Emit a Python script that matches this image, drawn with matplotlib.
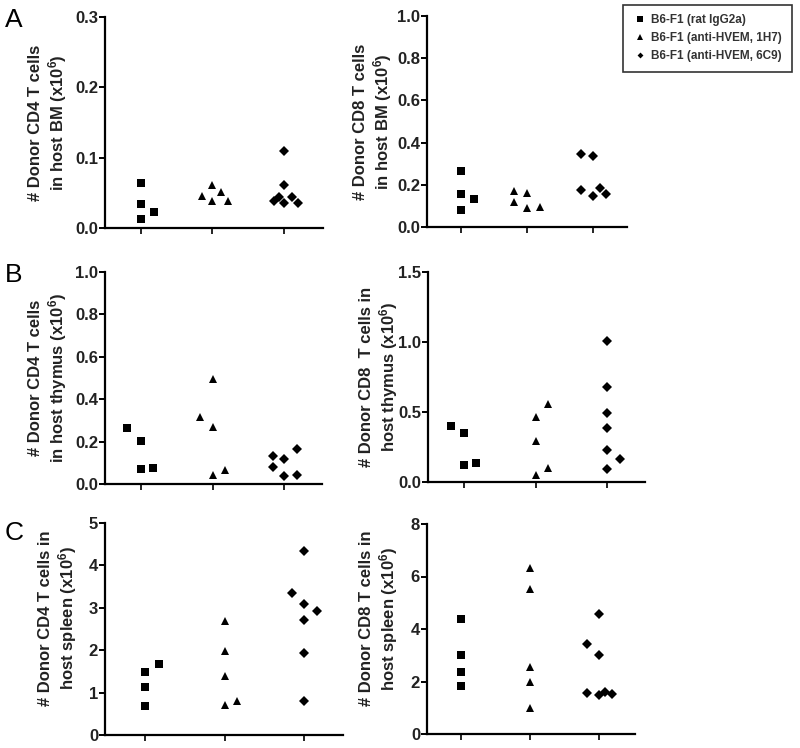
import matplotlib
matplotlib.use("Agg")
import matplotlib.pyplot as plt
from matplotlib.lines import Line2D
from matplotlib.ticker import FormatStrFormatter

plt.rcParams['font.family'] = ['Liberation Sans', 'DejaVu Sans']
plt.rcParams['mathtext.fontset'] = 'custom'
plt.rcParams['mathtext.rm'] = 'Liberation Sans:bold'
plt.rcParams['mathtext.it'] = 'Liberation Sans:bold'
plt.rcParams['mathtext.default'] = 'rm'

groups = ["B6-F1 (rat IgG2a)", "B6-F1 (anti-HVEM, 1H7)", "B6-F1 (anti-HVEM, 6C9)"]
group_pos = [1, 2, 3]

# Panel A left: CD4 in BM
a4_sq = [0.064, 0.034, 0.013, 0.023]
a4_sq_dx = [0, 0, 0, 0.18]
a4_tr = [0.046, 0.061, 0.038, 0.051, 0.039]
a4_tr_dx = [-0.15, 0, 0, 0.12, 0.22]
a4_di = [0.109, 0.061, 0.038, 0.044, 0.035, 0.044, 0.035]
a4_di_dx = [0, 0, -0.13, -0.07, 0, 0.12, 0.2]

# Panel A right: CD8 in BM
a8_sq = [0.264, 0.158, 0.134, 0.079]
a8_sq_dx = [0, 0, 0.2, 0]
a8_tr = [0.169, 0.118, 0.163, 0.092, 0.095]
a8_tr_dx = [-0.2, -0.2, 0, 0, 0.19]
a8_di = [0.348, 0.335, 0.177, 0.147, 0.186, 0.155]
a8_di_dx = [-0.18, 0, -0.18, 0, 0.11, 0.2]

# Panel B left: CD4 in thymus
b4_sq = [0.263, 0.205, 0.071, 0.074]
b4_sq_dx = [-0.2, 0, 0, 0.17]
b4_tr = [0.315, 0.496, 0.271, 0.043, 0.066]
b4_tr_dx = [-0.17, 0, 0, 0, 0.18]
b4_di = [0.134, 0.082, 0.118, 0.039, 0.164, 0.043]
b4_di_dx = [-0.15, -0.15, 0, 0, 0.18, 0.18]

# Panel B right: CD8 in thymus
b8_sq = [0.399, 0.353, 0.124, 0.139]
b8_sq_dx = [-0.18, 0, 0, 0.17]
b8_tr = [0.466, 0.554, 0.291, 0.048, 0.100]
b8_tr_dx = [0, 0.17, 0, 0, 0.17]
b8_di = [1.010, 0.681, 0.494, 0.387, 0.227, 0.167, 0.091]
b8_di_dx = [0, 0, 0, 0, 0, 0.18, 0]

# Panel C left: CD4 in spleen
c4_sq = [1.48, 1.13, 0.68, 1.68]
c4_sq_dx = [0, 0, 0, 0.17]
c4_tr = [2.70, 1.98, 1.38, 0.71, 0.80]
c4_tr_dx = [0, 0, 0, 0, 0.16]
c4_di = [4.33, 3.36, 3.08, 2.92, 2.72, 1.93, 0.81]
c4_di_dx = [0, -0.15, 0, 0.16, 0, 0, 0]

# Panel C right: CD8 in spleen
c8_sq = [4.38, 3.00, 2.37, 1.82]
c8_sq_dx = [0, 0, 0, 0]
c8_tr = [6.32, 5.54, 2.55, 1.97, 1.00]
c8_tr_dx = [0, 0, 0, 0, 0]
c8_di = [3.41, 4.57, 3.02, 1.55, 1.50, 1.59, 1.53]
c8_di_dx = [-0.17, 0, 0, -0.17, 0, 0.09, 0.18]

panels = [
    dict(rect=(105, 17, 323, 228), ylim=0.3, yticks=[0, 0.1, 0.2, 0.3], fmt='%.1f',
         label="# Donor CD4 T cells\nin host BM (x10$^6$)", lx=-0.165, ly=0.5,
         data=[(a4_sq, a4_sq_dx), (a4_tr, a4_tr_dx), (a4_di, a4_di_dx)], xlim=(0.497, 3.55)),
    dict(rect=(427, 16, 627, 227), ylim=1.0, yticks=[0, 0.2, 0.4, 0.6, 0.8, 1.0], fmt='%.1f',
         label="# Donor CD8 T cells\nin host BM (x10$^6$)", lx=-0.165, ly=0.5,
         data=[(a8_sq, a8_sq_dx), (a8_tr, a8_tr_dx), (a8_di, a8_di_dx)], xlim=(0.485, 3.515)),
    dict(rect=(105, 272, 322, 484), ylim=1.0, yticks=[0, 0.2, 0.4, 0.6, 0.8, 1.0], fmt='%.1f',
         label="# Donor CD4 T cells\nin host thymus (x10$^6$)", lx=-0.166, ly=0.5,
         data=[(b4_sq, b4_sq_dx), (b4_tr, b4_tr_dx), (b4_di, b4_di_dx)], xlim=(0.497, 3.53)),
    dict(rect=(428, 272, 645, 482), ylim=1.5, yticks=[0, 0.5, 1.0, 1.5], fmt='%.1f',
         label="# Donor CD8  T cells in\nhost thymus (x10$^6$)", lx=-0.129, ly=0.5,
         data=[(b8_sq, b8_sq_dx), (b8_tr, b8_tr_dx), (b8_di, b8_di_dx)], xlim=(0.497, 3.53)),
    dict(rect=(105, 523, 343, 735), ylim=5, yticks=[0, 1, 2, 3, 4, 5], fmt='%d',
         label="# Donor CD4 T cells in\nhost spleen (x10$^6$)", lx=-0.109, ly=0.55,
         data=[(c4_sq, c4_sq_dx), (c4_tr, c4_tr_dx), (c4_di, c4_di_dx)], xlim=(0.497, 3.49)),
    dict(rect=(427, 524, 635, 734), ylim=8, yticks=[0, 2, 4, 6, 8], fmt='%d',
         label="# Donor CD8 T cells in\nhost spleen (x10$^6$)", lx=-0.130, ly=0.55,
         data=[(c8_sq, c8_sq_dx), (c8_tr, c8_tr_dx), (c8_di, c8_di_dx)], xlim=(0.507, 3.52)),
]

markers = [('s', 5.8), ('^', 6.0), ('D', 4.6)]

W, H = 800, 748
fig = plt.figure(figsize=(W / 100, H / 100), dpi=100)

for p in panels:
    x0, y0, x1, y1 = p['rect']
    ax = fig.add_axes([x0 / W, 1 - y1 / H, (x1 - x0) / W, (y1 - y0) / H])
    for gi, (vals, dx) in enumerate(p['data']):
        m, ms = markers[gi]
        xs = [group_pos[gi] + d for d in dx]
        ax.plot(xs, vals, linestyle='none', marker=m, markersize=ms,
                color='black', markeredgewidth=0, clip_on=False)
    ax.set_xlim(*p['xlim'])
    ax.set_ylim(0, p['ylim'])
    ax.set_yticks(p['yticks'])
    ax.yaxis.set_major_formatter(FormatStrFormatter(p['fmt']))
    ax.set_xticks(group_pos)
    ax.set_xticklabels([])
    for s in ['top', 'right']:
        ax.spines[s].set_visible(False)
    for s in ['left', 'bottom']:
        ax.spines[s].set_linewidth(1.6)
    ax.tick_params(axis='y', direction='out', length=4, width=1.4, pad=1,
                   labelsize=12)
    ax.tick_params(axis='x', direction='out', length=4, width=1.2)
    for lbl in ax.get_yticklabels():
        lbl.set_fontweight('bold')
        lbl.set_color('#222222')
    ax.set_ylabel(p['label'], fontsize=12, fontweight='bold', color='#222222',
                  linespacing=1.2)
    ax.yaxis.set_label_coords(p['lx'], p['ly'])

# Panel letters
for letter, yb in [('A', 27), ('B', 282), ('C', 540)]:
    fig.text(5 / W, 1 - yb / H, letter, fontsize=19, va='baseline', ha='left')

handles = [Line2D([], [], linestyle='none', marker=m, markersize=ms * 0.65,
                  color='black', markeredgewidth=0) for m, ms in markers]
leg = fig.legend(handles, groups, loc='upper left',
                 bbox_to_anchor=(623 / W, 1 - 5 / H), borderaxespad=0,
                 frameon=True, fancybox=False, edgecolor='black',
                 prop={'size': 8.5, 'weight': 'bold'}, handlelength=1.2,
                 handletextpad=0.4, borderpad=0.8, labelspacing=0.5)
leg.get_frame().set_linewidth(1.2)
for t in leg.get_texts():
    t.set_color('#333333')

fig.savefig('out.png', dpi=100)
